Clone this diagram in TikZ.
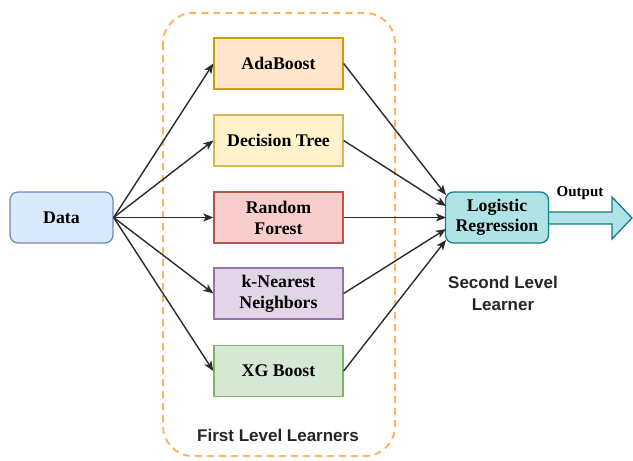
\documentclass[tikz,border=0pt]{standalone}
\usepackage{fontspec}
\setmainfont{Liberation Serif}
\newfontfamily\labelfont{Liberation Sans}
\usetikzlibrary{arrows.meta}
\definecolor{bluefill}{HTML}{DAE8FC}\definecolor{bluedraw}{HTML}{6C8EBF}
\definecolor{orfill}{HTML}{FFE6CC}\definecolor{ordraw}{HTML}{D79B00}
\definecolor{yefill}{HTML}{FFF2CC}\definecolor{yedraw}{HTML}{D6B656}
\definecolor{refill}{HTML}{F8CECC}\definecolor{redraw}{HTML}{B85450}
\definecolor{pufill}{HTML}{E1D5E7}\definecolor{pudraw}{HTML}{9673A6}
\definecolor{grfill}{HTML}{D5E8D4}\definecolor{grdraw}{HTML}{82B366}
\definecolor{cyfill}{HTML}{B0E3E6}\definecolor{cydraw}{HTML}{0E8088}
\definecolor{dashor}{HTML}{FFB366}
\definecolor{linegray}{HTML}{2B2B2B}
\tikzset{
  learner/.style={draw, line width=1.3pt, minimum width=129pt, minimum height=51pt,
    align=center, font=\fontsize{17.8}{21}\selectfont\bfseries, inner sep=0pt},
  rbox/.style={learner, rounded corners=8pt, minimum width=103pt},
  conn/.style={draw=linegray, line width=1.4pt, -{Stealth[length=10pt,width=8pt,inset=2.5pt]}},
  grouplabel/.style={font=\labelfont\fontsize{17}{22}\selectfont\bfseries, align=center, text=black!85}
}
\begin{document}
\begin{tikzpicture}[x=1pt,y=-1pt]
\useasboundingbox (0,0) rectangle (633,461);
% group
\draw[dashor, line width=2pt, dash pattern=on 7pt off 5pt, rounded corners=30pt] (163,13) rectangle (395,456);
% output arrow (drawn behind the logistic box)
\filldraw[draw=cydraw, fill=cyfill, line width=1.3pt, line join=miter]
  (540,212) -- (612,212) -- (612,197) -- (632,218) -- (612,239) -- (612,224) -- (540,224) -- cycle;
% nodes
\node[rbox, fill=bluefill, draw=bluedraw] (data) at (61.5,217.5) {Data};
\node[learner, fill=orfill, draw=ordraw] (ada) at (278.5,63.5) {AdaBoost};
\node[learner, fill=yefill, draw=yedraw] (dt) at (278.5,140.5) {Decision Tree};
\node[learner, fill=refill, draw=redraw] (rf) at (278.5,217.5) {Random\\Forest};
\node[learner, fill=pufill, draw=pudraw] (knn) at (278.5,293.5) {k-Nearest\\Neighbors};
\node[learner, fill=grfill, draw=grdraw] (xg) at (278.5,371) {XG Boost};
\node[rbox, fill=cyfill, draw=cydraw, font=\fontsize{17.8}{20}\selectfont\bfseries] (lr) at (497,217.5) {Logistic\\Regression};
\node[grouplabel] (fll) at (278,435) {First Level Learners};
\node[grouplabel] (sll) at (503,293) {Second Level\\Learner};
\node[font=\fontsize{15}{18}\selectfont\bfseries] (out) at (580,193) {Output};
% connectors from data
\foreach \t in {ada,dt,rf,knn,xg} \draw[conn] (data.east) -- (\t.west);
% connectors to logistic
\coordinate (e1) at (446,195);
\coordinate (e2) at (446,206);
\coordinate (e3) at (446,217.5);
\coordinate (e4) at (446,229);
\coordinate (e5) at (446,240);
\draw[conn] (ada.east) -- (e1);
\draw[conn] (dt.east) -- (e2);
\draw[conn] (rf.east) -- (e3);
\draw[conn] (knn.east) -- (e4);
\draw[conn] (xg.east) -- (e5);
\end{tikzpicture}
\end{document}
